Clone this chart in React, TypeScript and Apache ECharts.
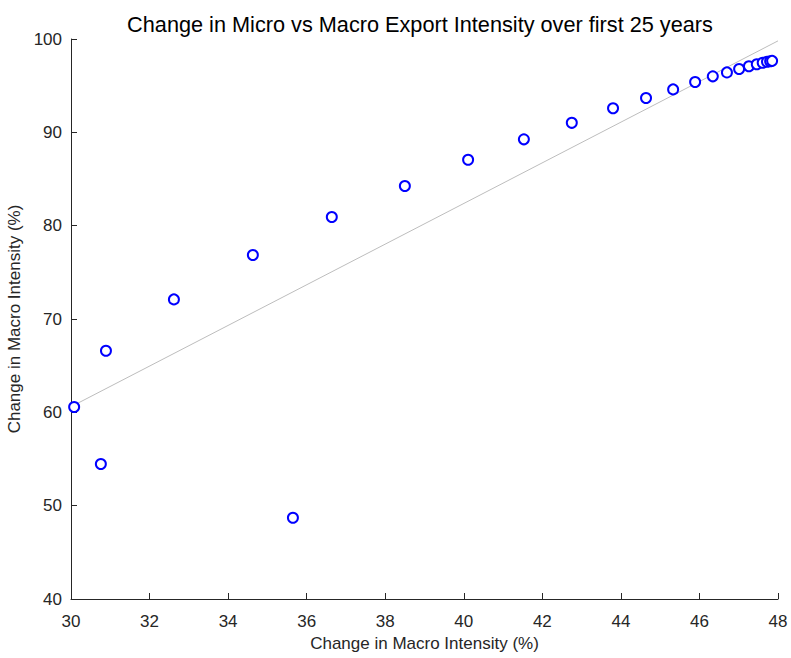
import React, { useEffect, useRef } from "react";
import * as echarts from "echarts";

const macroChange = [30.08, 30.89, 30.76, 32.62, 34.63, 35.65, 36.64, 38.5, 40.11, 41.53, 42.75, 43.8, 44.64, 45.33, 45.89, 46.34, 46.7, 47.01, 47.26, 47.46, 47.61, 47.72, 47.8, 47.85];
const microChange = [60.57, 66.6, 54.46, 72.1, 76.86, 48.7, 80.93, 84.25, 87.06, 89.25, 91.02, 92.58, 93.68, 94.6, 95.39, 96.0, 96.42, 96.79, 97.08, 97.3, 97.45, 97.56, 97.62, 97.66];
const fitX = [30, 48];
const fitY = [60.6, 99.8];

const xTicks = [30, 32, 34, 36, 38, 40, 42, 44, 46, 48];
const yTicks = [40, 50, 60, 70, 80, 90, 100];

export default function App() {
  const ref = useRef<HTMLDivElement>(null);
  useEffect(() => {
    document.body.style.margin = "0";
    const chart = echarts.init(ref.current!, null, { renderer: "svg" });
    const font = "Liberation Sans, Arial, sans-serif";
    const axisCommon = {
      axisLine: { show: true, lineStyle: { color: "#262626", width: 1 } },
      axisTick: { show: true, inside: true, length: 6, lineStyle: { color: "#262626" } },
      axisLabel: { color: "#262626", fontSize: 17, fontFamily: font },
      splitLine: { show: false },
      nameTextStyle: { color: "#262626", fontSize: 17, fontFamily: font },
    };
    chart.setOption({
      animation: false,
      backgroundColor: "#ffffff",
      title: {
        text: "Change in Micro vs Macro Export Intensity over first 25 years",
        left: 415,
        textAlign: "center",
        top: 8,
        textStyle: { fontSize: 21.7, fontWeight: "normal", color: "#000000", fontFamily: font },
      },
      grid: { left: 71, top: 39, right: 13, bottom: 59, containLabel: false, outerBoundsMode: "none" },
      xAxis: {
        type: "value",
        min: xTicks[0],
        max: xTicks[xTicks.length - 1],
        interval: 2,
        name: "Change in Macro Intensity (%)",
        nameLocation: "middle",
        nameGap: 30,
        ...axisCommon,
        axisLabel: { ...axisCommon.axisLabel, margin: 14 },
      },
      yAxis: {
        type: "value",
        min: yTicks[0],
        max: yTicks[yTicks.length - 1],
        interval: 10,
        name: "Change in Macro Intensity (%)",
        nameLocation: "middle",
        nameGap: 37,
        ...axisCommon,
        axisLabel: { ...axisCommon.axisLabel, margin: 9 },
      },
      series: [
        {
          type: "line",
          data: fitX.map((x, i) => [x, fitY[i]]),
          showSymbol: false,
          symbol: "none",
          lineStyle: { color: "#bdbdbd", width: 1 },
          z: 1,
        },
        {
          type: "scatter",
          data: macroChange.map((x, i) => [x, microChange[i]]),
          symbol: "circle",
          symbolSize: 10,
          itemStyle: { color: "#ffffff", borderColor: "#0000ff", borderWidth: 2, opacity: 1 },
          z: 2,
        },
      ],
    });
    return () => chart.dispose();
  }, []);
  return <div ref={ref} style={{ width: 791, height: 658 }} />;
}
